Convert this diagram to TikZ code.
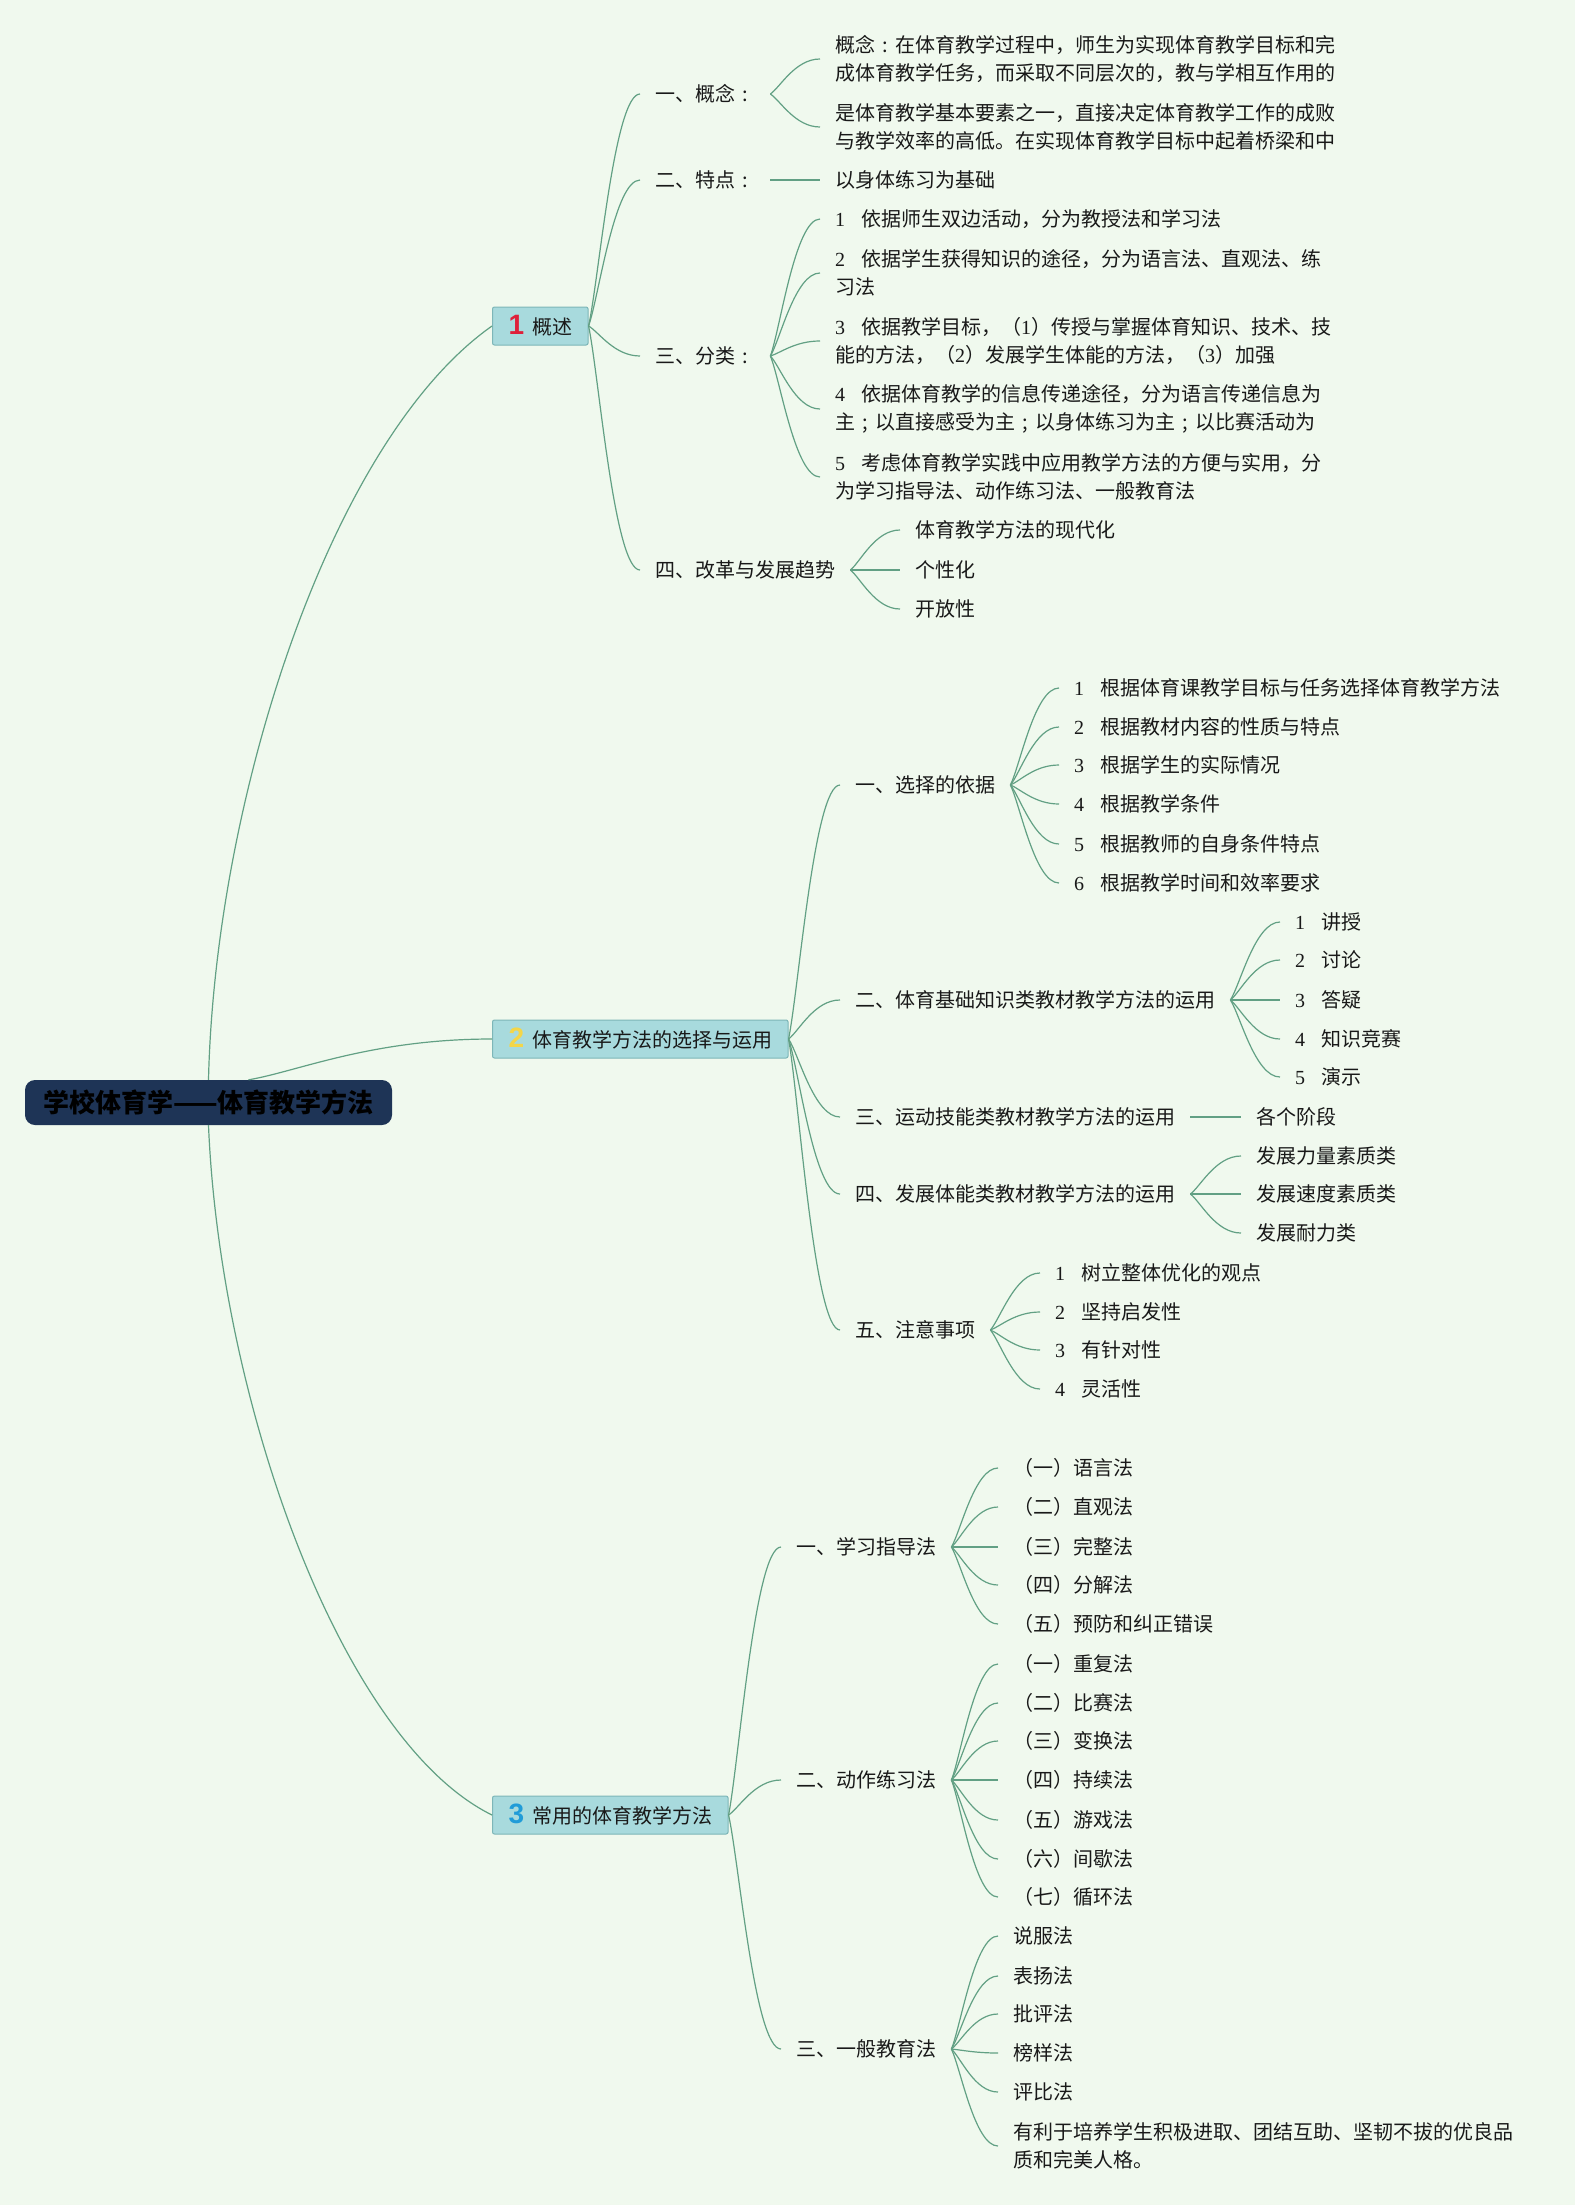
\documentclass[tikz,border=0pt]{standalone}
\usepackage{fontspec}
\setmainfont{Noto Sans CJK SC}
\newfontfamily\numfont{Liberation Serif}
\newfontfamily\bignum{Liberation Sans}
\usetikzlibrary{calc}
\definecolor{bg}{RGB}{240,249,238}
\definecolor{ln}{RGB}{98,160,132}
\definecolor{boxfill}{RGB}{168,218,221}
\definecolor{boxline}{RGB}{125,182,184}
\definecolor{rootfill}{RGB}{30,52,86}
\definecolor{txt}{RGB}{25,25,25}
\definecolor{nred}{RGB}{222,32,58}
\definecolor{nyel}{RGB}{244,214,72}
\definecolor{nblue}{RGB}{32,156,216}
\tikzset{
 lab/.style={anchor=west, xshift=-15pt, inner xsep=15pt, inner ysep=3pt, text=txt, font=\fontsize{20}{28}\selectfont, align=left},
 topic/.style={anchor=west, draw=boxline, fill=boxfill, rounded corners=2pt, line width=1pt, minimum height=38pt, inner xsep=16pt, text=txt, font=\fontsize{20}{28}\selectfont},
 rootbox/.style={fill=rootfill, rounded corners=10pt, minimum height=45pt, minimum width=367pt, font=\fontsize{26}{30}\selectfont\bfseries, text=black},
 branch/.style={draw=ln, line width=1.2pt},
}
\newcommand\conn[2]{\draw[branch] let \p1=(#1), \p2=(#2) in (\p1) .. controls ({\x1+0.2*(\x2-\x1)},{\y1+0.2*(\y2-\y1)}) and ({\x1+0.5*(\x2-\x1)},\y2) .. (\p2);}
\newcommand\nm[1]{{\numfont #1}\hspace{16pt}}
\newcommand\bnum[2]{{\color{#1}\bignum\bfseries\fontsize{28}{28}\selectfont #2}\hspace{8pt}}
\newcommand\mycolon{\makebox[20pt]{:}}
\newcommand\mysemi{\makebox[20pt]{;}}
\begin{document}
\begin{tikzpicture}[x=1pt,y=-1pt]
\fill[bg] (0,0) rectangle (1575,2205);
\useasboundingbox (0,0) rectangle (1575,2205);

\node[rootbox] (root) at (208.5,1102.5) {学校体育学——体育教学方法};

\node[topic] (t1) at (492,326) {\bnum{nred}{1}概述};
\node[topic] (t2) at (492,1039) {\bnum{nyel}{2}体育教学方法的选择与运用};
\node[topic] (t3) at (492,1815) {\bnum{nblue}{3}常用的体育教学方法};

% section 1
\node[lab] (a1) at (655,94) {一、概念\mycolon};
\node[lab] (a2) at (655,180) {二、特点\mycolon};
\node[lab] (a3) at (655,356) {三、分类\mycolon};
\node[lab] (a4) at (655,570) {四、改革与发展趋势};

\node[lab] (a1x) at (835,59) {概念\mycolon 在体育教学过程中，师生为实现体育教学目标和完\\成体育教学任务，而采取不同层次的，教与学相互作用的};
\node[lab] (a1y) at (835,127) {是体育教学基本要素之一，直接决定体育教学工作的成败\\与教学效率的高低。在实现体育教学目标中起着桥梁和中};
\node[lab] (a2x) at (835,180) {以身体练习为基础};
\node[lab] (a3a) at (835,219) {\nm{1}依据师生双边活动，分为教授法和学习法};
\node[lab] (a3b) at (835,273) {\nm{2}依据学生获得知识的途径，分为语言法、直观法、练\\习法};
\node[lab] (a3c) at (835,341) {\nm{3}依据教学目标，（{\numfont 1}）传授与掌握体育知识、技术、技\\能的方法，（{\numfont 2}）发展学生体能的方法，（{\numfont 3}）加强};
\node[lab] (a3d) at (835,409) {\nm{4}依据体育教学的信息传递途径，分为语言传递信息为\\主\mysemi 以直接感受为主\mysemi 以身体练习为主\mysemi 以比赛活动为};
\node[lab] (a3e) at (835,477) {\nm{5}考虑体育教学实践中应用教学方法的方便与实用，分\\为学习指导法、动作练习法、一般教育法};
\node[lab] (a4a) at (915,530) {体育教学方法的现代化};
\node[lab] (a4b) at (915,570) {个性化};
\node[lab] (a4c) at (915,609) {开放性};

% section 2
\node[lab] (b1) at (855,785) {一、选择的依据};
\node[lab] (b2) at (855,1000) {二、体育基础知识类教材教学方法的运用};
\node[lab] (b3) at (855,1117) {三、运动技能类教材教学方法的运用};
\node[lab] (b4) at (855,1194) {四、发展体能类教材教学方法的运用};
\node[lab] (b5) at (855,1330) {五、注意事项};

\node[lab] (b1a) at (1074,688) {\nm{1}根据体育课教学目标与任务选择体育教学方法};
\node[lab] (b1b) at (1074,727) {\nm{2}根据教材内容的性质与特点};
\node[lab] (b1c) at (1074,765) {\nm{3}根据学生的实际情况};
\node[lab] (b1d) at (1074,804) {\nm{4}根据教学条件};
\node[lab] (b1e) at (1074,844) {\nm{5}根据教师的自身条件特点};
\node[lab] (b1f) at (1074,883) {\nm{6}根据教学时间和效率要求};

\node[lab] (b2a) at (1295,922) {\nm{1}讲授};
\node[lab] (b2b) at (1295,960) {\nm{2}讨论};
\node[lab] (b2c) at (1295,1000) {\nm{3}答疑};
\node[lab] (b2d) at (1295,1039) {\nm{4}知识竞赛};
\node[lab] (b2e) at (1295,1077) {\nm{5}演示};

\node[lab] (b3a) at (1256,1117) {各个阶段};

\node[lab] (b4a) at (1256,1156) {发展力量素质类};
\node[lab] (b4b) at (1256,1194) {发展速度素质类};
\node[lab] (b4c) at (1256,1233) {发展耐力类};

\node[lab] (b5a) at (1055,1273) {\nm{1}树立整体优化的观点};
\node[lab] (b5b) at (1055,1312) {\nm{2}坚持启发性};
\node[lab] (b5c) at (1055,1350) {\nm{3}有针对性};
\node[lab] (b5d) at (1055,1389) {\nm{4}灵活性};

% section 3
\node[lab] (c1) at (796,1547) {一、学习指导法};
\node[lab] (c2) at (796,1780) {二、动作练习法};
\node[lab] (c3) at (796,2049) {三、一般教育法};

\node[lab] (c1a) at (1013,1468) {（一）语言法};
\node[lab] (c1b) at (1013,1507) {（二）直观法};
\node[lab] (c1c) at (1013,1547) {（三）完整法};
\node[lab] (c1d) at (1013,1585) {（四）分解法};
\node[lab] (c1e) at (1013,1624) {（五）预防和纠正错误};

\node[lab] (c2a) at (1013,1664) {（一）重复法};
\node[lab] (c2b) at (1013,1703) {（二）比赛法};
\node[lab] (c2c) at (1013,1741) {（三）变换法};
\node[lab] (c2d) at (1013,1780) {（四）持续法};
\node[lab] (c2e) at (1013,1820) {（五）游戏法};
\node[lab] (c2f) at (1013,1859) {（六）间歇法};
\node[lab] (c2g) at (1013,1897) {（七）循环法};

\node[lab] (c3a) at (1013,1936) {说服法};
\node[lab] (c3b) at (1013,1976) {表扬法};
\node[lab] (c3c) at (1013,2014) {批评法};
\node[lab] (c3d) at (1013,2053) {榜样法};
\node[lab] (c3e) at (1013,2092) {评比法};
\node[lab] (c3f) at (1013,2146) {有利于培养学生积极进取、团结互助、坚韧不拔的优良品\\质和完美人格。};

% root connectors
\draw[branch] (root.north) .. controls (215,800) and (330,440) .. (t1.west);
\conn{[xshift=40pt]root.north}{t2.west}
\draw[branch] (root.south) .. controls (220,1400) and (340,1740) .. (t3.west);

% topic connectors
\foreach \k in {a1,a2,a3,a4} {\conn{t1.east}{\k.west}}
\foreach \k in {b1,b2,b3,b4,b5} {\conn{t2.east}{\k.west}}
\foreach \k in {c1,c2,c3} {\conn{t3.east}{\k.west}}

% leaf connectors
\foreach \k in {a1x,a1y} {\conn{a1.east}{\k.west}}
\conn{a2.east}{a2x.west}
\foreach \k in {a3a,a3b,a3c,a3d,a3e} {\conn{a3.east}{\k.west}}
\foreach \k in {a4a,a4b,a4c} {\conn{a4.east}{\k.west}}
\foreach \k in {b1a,b1b,b1c,b1d,b1e,b1f} {\conn{b1.east}{\k.west}}
\foreach \k in {b2a,b2b,b2c,b2d,b2e} {\conn{b2.east}{\k.west}}
\conn{b3.east}{b3a.west}
\foreach \k in {b4a,b4b,b4c} {\conn{b4.east}{\k.west}}
\foreach \k in {b5a,b5b,b5c,b5d} {\conn{b5.east}{\k.west}}
\foreach \k in {c1a,c1b,c1c,c1d,c1e} {\conn{c1.east}{\k.west}}
\foreach \k in {c2a,c2b,c2c,c2d,c2e,c2f,c2g} {\conn{c2.east}{\k.west}}
\foreach \k in {c3a,c3b,c3c,c3d,c3e,c3f} {\conn{c3.east}{\k.west}}
\end{tikzpicture}
\end{document}
